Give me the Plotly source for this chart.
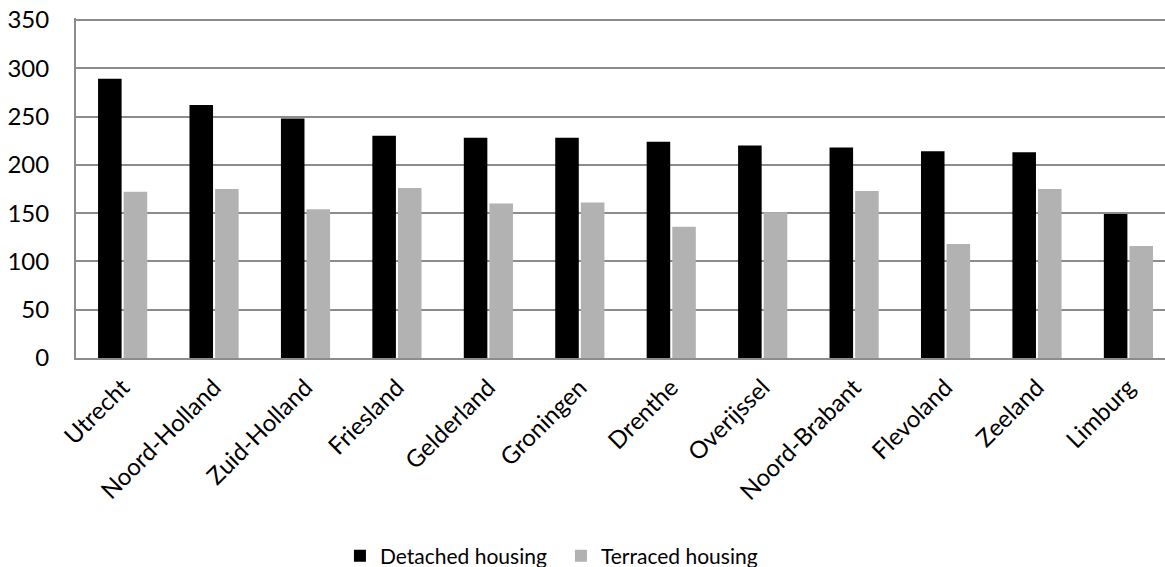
import plotly.graph_objects as go

provinces = ["Utrecht", "Noord-Holland", "Zuid-Holland", "Friesland", "Gelderland",
             "Groningen", "Drenthe", "Overijssel", "Noord-Brabant", "Flevoland",
             "Zeeland", "Limburg"]
detached = [289, 262, 248, 230, 228, 228, 224, 220, 218, 214, 213, 149]
terraced = [172, 175, 154, 176, 160, 161, 136, 151, 173, 118, 175, 116]
y_ticks = [0, 50, 100, 150, 200, 250, 300, 350]

FONT = "Lato"
W, H = 1165, 567

fig = go.Figure()
fig.add_trace(go.Bar(name="Detached housing", x=provinces, y=detached,
                     marker=dict(color="#000000", line=dict(width=0))))
fig.add_trace(go.Bar(name="Terraced housing", x=provinces, y=terraced,
                     marker=dict(color="#b2b2b2", line=dict(width=0))))

fig.update_layout(
    width=W, height=H,
    margin=dict(l=76, r=0, t=18, b=209),
    paper_bgcolor="white", plot_bgcolor="white",
    barmode="group", bargap=0.44, bargroupgap=0.08,
    font=dict(family=FONT, color="#000000", size=24),
    showlegend=True,
    legend=dict(orientation="h", xref="container", yref="container",
                x=0.2918, xanchor="left", y=0.0194, yanchor="middle",
                font=dict(size=21, family=FONT), traceorder="normal",
                itemwidth=30, entrywidth=176, entrywidthmode="pixels"),
)
fig.update_xaxes(
    type="category", range=[-0.51, 11.4], tickangle=-45,
    showline=True, linecolor="#8c8c8c", linewidth=2, automargin=False,
    showgrid=False, ticks="", ticklabelstandoff=4, tickfont=dict(size=24, family=FONT),
)
fig.update_yaxes(
    range=[0, 352], tickvals=y_ticks, showgrid=True, gridcolor="#8c8c8c", gridwidth=1.6,
    showline=True, linecolor="#8c8c8c", linewidth=2, zeroline=False, automargin=False,
    ticks="", ticklabelstandoff=20, ticklabeloverflow="allow",
    tickfont=dict(size=24, family=FONT),
)

fig.write_html("out.html", config={"displayModeBar": False},
               post_script="document.body.style.margin='0';")
